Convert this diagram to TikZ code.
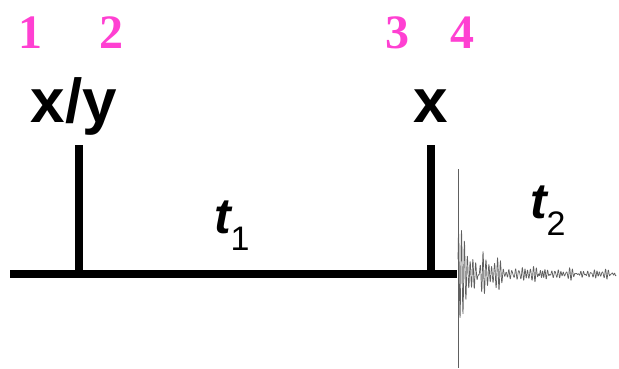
\documentclass[tikz,border=0pt]{standalone}
\usepackage{fontspec}
\setmainfont{Liberation Serif}
\setsansfont{Liberation Sans}
\usepackage{tikz}
\definecolor{pulsepink}{RGB}{255,64,210}

\begin{document}
\begin{tikzpicture}[x=1pt, y=-1pt,
	every node/.style={inner sep=0pt, outer sep=0pt},
	stepnum/.style={anchor=base, font=\fontsize{48}{48}\selectfont\bfseries, text=pulsepink},
	phase/.style={anchor=base, font=\fontsize{62}{62}\selectfont\sffamily\bfseries},
	delay/.style={anchor=base west, font=\fontsize{50}{50}\selectfont\sffamily\bfseries\itshape},
	rail/.style={line width=8pt},
	fid/.style={line width=0.7pt, gray!75!black}]
	\useasboundingbox (0,0) rectangle (619,368);
	% pulse sequence
	\coordinate (start) at (10,274);
	\coordinate (p1) at (79,274);
	\coordinate (p1top) at (79,145);
	\coordinate (p2) at (431,274);
	\coordinate (p2top) at (431,145);
	\coordinate (acq) at (457,274);
	\coordinate (acqtop) at (458,169);
	\coordinate (acqbot) at (458,368);
	\draw[rail] (start) -- (acq);
	\draw[rail] (p1) -- (p1top);
	\draw[rail] (p2) -- (p2top);
	\draw[fid] (acqtop) -- (acqbot);
	% decaying signal
	\draw[fid, line join=round] plot[domain=0:158, samples=600]
		({458+\x}, {274 - (22*exp(-\x/22)+1.5)*sin(130*mod(\x,36)) - (18*exp(-\x/30)+1.2)*sin(120*mod(\x,3)+20) - (2+14*exp(-((\x-25)/3)^2))*exp(-\x/80)*sin(145*mod(\x,72)+60) - (6*exp(-\x/40)+1.3)*sin(100*mod(\x,18)+110) - (1.4+2.5*exp(-((\x-82)/4)^2))*sin(160*mod(\x,9)+200)});
	\node[stepnum] (n1) at (31,48) {1};
	\node[stepnum] (n2) at (111,48) {2};
	\node[stepnum] (n3) at (397,48) {3};
	\node[stepnum] (n4) at (462,48) {4};
	\node[phase] (ph1) at (74,122) {x/y};
	\node[phase] (ph2) at (431,122) {x};
	\node[delay] (d1) at (214,233) {t\raisebox{-17pt}{\fontsize{34}{34}\selectfont\mdseries\upshape 1}};
	\node[delay] (d2) at (530,218) {t\raisebox{-17pt}{\fontsize{34}{34}\selectfont\mdseries\upshape 2}};
\end{tikzpicture}
\end{document}
